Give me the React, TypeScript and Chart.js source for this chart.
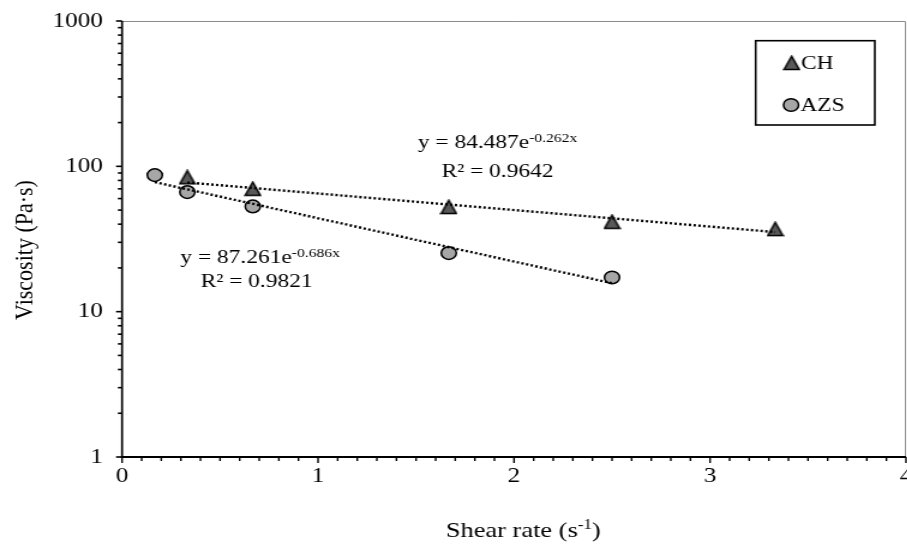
import React, { useEffect, useRef } from "react";
import { Chart, registerables } from "chart.js";

Chart.register(...registerables);

// ---------- data ----------
const chRate = [0.333, 0.667, 1.667, 2.5, 3.333];
const chVisc = [84, 70, 52.5, 41.5, 37];
const azsRate = [0.167, 0.333, 0.667, 1.667, 2.5];
const azsVisc = [87, 66.5, 53, 25.3, 17.2];

// exponential trend lines (coefficients shown on the chart)
const chFitA = 84.487;
const chFitB = -0.262;
const azsFitA = 87.261;
const azsFitB = -0.686;

const xTicks = [0, 1, 2, 3, 4];
const yTicks = [1, 10, 100, 1000];
const seriesNames = ["CH", "AZS"];
const chEq = ["y = 84.487e", "-0.262x"];
const chR2 = "R² = 0.9642";
const azsEq = ["y = 87.261e", "-0.686x"];
const azsR2 = "R² = 0.9821";
const xTitle = ["Shear rate (s", "-1", ")"];
const yTitle = "Viscosity (Pa·s)";

// ---------- layout ----------
const SX = 1.2;
const W = Math.round(907 / SX);
const H = 548;
const FONT = "'Liberation Serif', 'Times New Roman', serif";
const CH_FILL = "#595959";
const AZS_FILL = "#a6a6a6";

function makeTriangle(): HTMLCanvasElement {
  const c = document.createElement("canvas");
  c.width = 15;
  c.height = 16;
  const g = c.getContext("2d")!;
  g.beginPath();
  g.moveTo(7.5, 1.2);
  g.lineTo(13.9, 14.6);
  g.lineTo(1.1, 14.6);
  g.closePath();
  g.fillStyle = CH_FILL;
  g.fill();
  g.lineWidth = 1.5;
  g.lineJoin = "miter";
  g.strokeStyle = "#000";
  g.stroke();
  return c;
}

function drawParts(
  ctx: CanvasRenderingContext2D,
  parts: { t: string; sup?: boolean }[],
  cx: number,
  baseline: number,
  size: number,
  supSize: number,
  rise: number
) {
  const widths = parts.map((p) => {
    ctx.font = `${p.sup ? supSize : size}px ${FONT}`;
    return ctx.measureText(p.t).width;
  });
  const total = widths.reduce((a, b) => a + b, 0);
  let x = cx - total / 2;
  ctx.textAlign = "left";
  ctx.textBaseline = "alphabetic";
  ctx.fillStyle = "#000";
  parts.forEach((p, i) => {
    ctx.font = `${p.sup ? supSize : size}px ${FONT}`;
    ctx.fillText(p.t, x, p.sup ? baseline - rise : baseline);
    x += widths[i];
  });
}

export default function App() {
  const ref = useRef<HTMLCanvasElement>(null);

  useEffect(() => {
    const canvas = ref.current!;
    const tri = makeTriangle();

    const deco = {
      id: "deco",
      beforeDatasetsDraw(chart: any) {
        const { ctx, chartArea: a, scales } = chart;
        const x = scales.x;
        const y = scales.y;
        ctx.save();
        // frame (top/right)
        ctx.strokeStyle = "#8c8c8c";
        ctx.lineWidth = 1;
        ctx.beginPath();
        ctx.moveTo(a.left, a.top + 0.5);
        ctx.lineTo(a.right - 0.5, a.top + 0.5);
        ctx.lineTo(a.right - 0.5, a.bottom);
        ctx.stroke();
        // axes
        ctx.strokeStyle = "#000";
        ctx.lineWidth = 1.7;
        ctx.beginPath();
        ctx.moveTo(a.left, a.top);
        ctx.lineTo(a.left, a.bottom);
        ctx.stroke();
        ctx.lineWidth = 2;
        ctx.beginPath();
        ctx.moveTo(a.left - 1, a.bottom);
        ctx.lineTo(a.right, a.bottom);
        ctx.stroke();
        // y tick marks (major + minor)
        ctx.lineWidth = 1.6;
        for (let d = 0; d < yTicks.length; d++) {
          const base = yTicks[d];
          const maxM = d === yTicks.length - 1 ? 1 : 9;
          for (let m = 1; m <= maxM; m++) {
            const py = y.getPixelForValue(base * m);
            const len = m === 1 ? 5 : 3.5;
            ctx.beginPath();
            ctx.moveTo(a.left - len, py);
            ctx.lineTo(a.left, py);
            ctx.stroke();
          }
        }
        // x tick marks
        ctx.lineWidth = 1.4;
        const xmax = xTicks[xTicks.length - 1];
        for (let i = 0; i <= xmax * 10; i++) {
          const px = x.getPixelForValue(i / 10);
          const len = i % 10 === 0 ? 6 : 4;
          ctx.beginPath();
          ctx.moveTo(px, a.bottom);
          ctx.lineTo(px, a.bottom + len);
          ctx.stroke();
        }
        ctx.restore();
      },
      afterDraw(chart: any) {
        const { ctx } = chart;
        ctx.save();
        // equations
        drawParts(ctx, [{ t: chEq[0] }, { t: chEq[1], sup: true }], 414.6, 148, 19.5, 13, 6.5);
        drawParts(ctx, [{ t: chR2 }], 414.6, 177, 19.5, 13, 6.5);
        drawParts(ctx, [{ t: azsEq[0] }, { t: azsEq[1], sup: true }], 216.7, 263, 19.5, 13, 6.5);
        drawParts(ctx, [{ t: azsR2 }], 213.8, 287, 19.5, 13, 6.5);
        // axis titles
        drawParts(ctx, [{ t: xTitle[0] }, { t: xTitle[1], sup: true }, { t: xTitle[2] }], 436, 537, 22, 14, 8);
        ctx.translate(21, 250);
        ctx.rotate(-Math.PI / 2);
        ctx.font = `22px ${FONT}`;
        ctx.textAlign = "center";
        ctx.textBaseline = "middle";
        ctx.fillStyle = "#000";
        ctx.fillText(yTitle, 0, 0);
        ctx.setTransform(1, 0, 0, 1, 0, 0);
        // legend
        ctx.strokeStyle = "#000";
        ctx.lineWidth = 1.6;
        ctx.strokeRect(629.7, 40.7, 99.3, 84.3);
        ctx.drawImage(tri, 659.7 - 7.5, 63 - 8);
        ctx.beginPath();
        ctx.arc(659.2, 105, 6.3, 0, Math.PI * 2);
        ctx.fillStyle = AZS_FILL;
        ctx.fill();
        ctx.lineWidth = 1.5;
        ctx.stroke();
        ctx.fillStyle = "#000";
        ctx.font = `19.5px ${FONT}`;
        ctx.textAlign = "left";
        ctx.textBaseline = "middle";
        ctx.fillText(seriesNames[0], 667.5, 64);
        ctx.fillText(seriesNames[1], 667, 105.5);
        ctx.restore();
      },
    };

    const chTrend = [chRate[0], chRate[chRate.length - 1]].map((x) => ({
      x,
      y: chFitA * Math.exp(chFitB * x),
    }));
    const azsTrend = [azsRate[0], azsRate[azsRate.length - 1]].map((x) => ({
      x,
      y: azsFitA * Math.exp(azsFitB * x),
    }));

    const chart = new Chart(canvas, {
      type: "scatter",
      data: {
        datasets: [
          {
            label: seriesNames[0],
            data: chRate.map((x, i) => ({ x, y: chVisc[i] })),
            pointStyle: tri as any,
            pointRadius: 7,
            backgroundColor: CH_FILL,
            borderColor: "#000",
            order: 2,
          },
          {
            label: seriesNames[1],
            data: azsRate.map((x, i) => ({ x, y: azsVisc[i] })),
            pointStyle: "circle",
            pointRadius: 6.3,
            borderWidth: 1.5,
            backgroundColor: AZS_FILL,
            borderColor: "#000",
            order: 2,
          },
          {
            label: "CH fit",
            data: chTrend,
            showLine: true,
            pointRadius: 0,
            borderColor: "#000",
            borderWidth: 2.4,
            borderDash: [2, 2],
            order: 0,
          },
          {
            label: "AZS fit",
            data: azsTrend,
            showLine: true,
            pointRadius: 0,
            borderColor: "#000",
            borderWidth: 2.4,
            borderDash: [2, 2],
            order: 0,
          },
        ] as any,
      },
      options: {
        responsive: false,
        animation: false,
        devicePixelRatio: 1,
        layout: { autoPadding: false, padding: { top: 21, right: 1, bottom: 0, left: 0 } },
        plugins: { legend: { display: false }, tooltip: { enabled: false } },
        scales: {
          x: {
            type: "linear",
            min: 0,
            max: 4,
            afterBuildTicks: (s: any) => {
              s.ticks = xTicks.map((v) => ({ value: v }));
            },
            ticks: {
              font: { family: FONT, size: 21 },
              color: "#000",
              padding: 7,
              maxRotation: 0,
              autoSkip: false,
            },
            grid: { display: false, drawTicks: false },
            border: { display: false },
            afterFit: (s: any) => {
              s.height = 91;
              s.paddingLeft = 0;
              s.paddingRight = 0;
            },
          },
          y: {
            type: "logarithmic",
            min: 1,
            max: 1000,
            afterBuildTicks: (s: any) => {
              s.ticks = yTicks.map((v) => ({ value: v }));
            },
            ticks: {
              font: { family: FONT, size: 21 },
              color: "#000",
              padding: 16,
              autoSkip: false,
              callback: (v: any) => String(v),
            },
            grid: { display: false, drawTicks: false },
            border: { display: false },
            afterFit: (s: any) => {
              s.width = 101.7;
              s.paddingTop = 0;
              s.paddingBottom = 0;
            },
          },
        },
      } as any,
      plugins: [deco],
    });
    return () => chart.destroy();
  }, []);

  return (
    <div
      style={{
        position: "fixed",
        left: 0,
        top: 0,
        width: 907,
        height: H,
        overflow: "hidden",
        background: "#fff",
      }}
    >
      <div
        style={{
          width: W,
          height: H,
          transform: `scaleX(${SX})`,
          transformOrigin: "0 0",
        }}
      >
        <canvas ref={ref} width={W} height={H} style={{ display: "block", width: W, height: H }} />
      </div>
    </div>
  );
}
